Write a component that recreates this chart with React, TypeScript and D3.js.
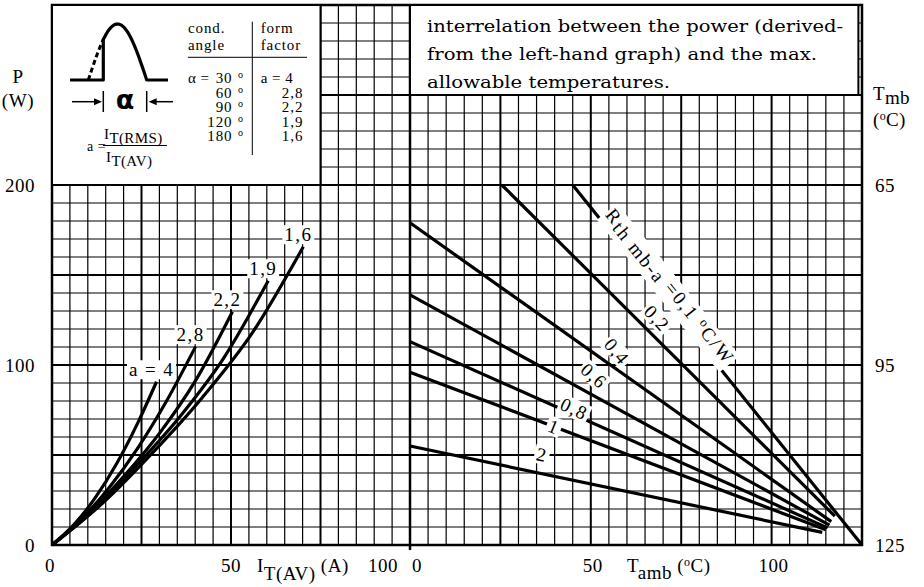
import React, { useEffect, useRef } from "react";
import * as d3 from "d3";

// left-hand graph: P (W) against I_T(AV) (A), one curve per form factor
const formFactorLabels = ["a = 4", "2,8", "2,2", "1,9", "1,6"];
const curveA4 = [[0, 0], [6, 11], [12, 26], [18, 45], [24, 68], [29.2, 90.7]];
const curveA28 = [[0, 0], [8, 14], [16, 32], [24, 54], [32, 80], [40.1, 110.2]];
const curveA22 = [[0, 0], [10, 17], [20, 38], [30, 62], [40, 91], [50.4, 129.6]];
const curveA19 = [[0, 0], [12, 20], [24, 45], [36, 72], [48, 104], [60.4, 146.8]];
const curveA16 = [[0, 0], [14, 23], [28, 51], [42, 82], [56, 118], [70.2, 165.7]];
const powerCurves = [curveA4, curveA28, curveA22, curveA19, curveA16];

// right-hand graph: straight lines for each Rth mb-a, P (W) against Tamb (oC)
const rthLabels = ["0,1", "0,2", "0,4", "0,6", "0,8", "1", "2"];
const rthStartTamb = [45, 25.4, 0, 0, 0, 0, 0];
const rthStartP = [200, 200, 179, 139, 113, 96, 55];
const rthEndTamb = [125, 117.5, 116.5, 116, 115.5, 115, 114];
const rthEndP = [0, 16, 13, 11, 9.5, 8.5, 7];

// axes
const powerTicks = [0, 100, 200];
const currentTicks = [0, 50, 100];
const tambTicks = [0, 50, 100];
const tmbTicks = [65, 95, 125];

// inset table
const condAngles = ["30", "60", "90", "120", "180"];
const formFactors = ["a = 4", "2,8", "2,2", "1,9", "1,6"];

const noteLines = [
  "interrelation between the power (derived-",
  "from the left-hand graph) and the max.",
  "allowable temperatures.",
];

const FONT = "'Liberation Serif', 'Times New Roman', serif";
const NOTE_FONT = "'DejaVu Serif', 'Liberation Serif', serif";

type Part = { s: string; dy?: number; size?: number };

const App = () => {
  const ref = useRef<SVGSVGElement>(null);

  useEffect(() => {
    const svg = d3.select(ref.current);
    svg.selectAll("*").remove();

    const xI = d3.scaleLinear().domain([0, 100]).range([52, 410]);
    const xT = d3.scaleLinear().domain([0, 125]).range([410, 862]);
    const yP = d3.scaleLinear().domain([0, 300]).range([545, 5]);
    const yTmb = d3.scaleLinear().domain([125, 35]).range([545, 5]);

    const addText = (
      parent: any,
      x: number,
      y: number,
      parts: Part[] | string,
      size = 19,
      anchor = "start",
      spacing = 0.6
    ) => {
      const t = parent
        .append("text")
        .attr("x", x)
        .attr("y", y)
        .attr("font-family", FONT)
        .attr("font-size", size)
        .attr("letter-spacing", spacing)
        .attr("text-anchor", anchor)
        .attr("fill", "#000");
      const list = typeof parts === "string" ? [{ s: parts }] : parts;
      list.forEach((p) => {
        const ts = t.append("tspan").text(p.s);
        if (p.dy) ts.attr("dy", p.dy);
        if (p.size) ts.attr("font-size", p.size);
      });
      return t;
    };

    const whiteBehind = (g: any, t: any, pad = 2, bottom?: number) => {
      const b = t.node().getBBox();
      const y0 = b.y + 1;
      const y1 = bottom !== undefined ? bottom : b.y + b.height - 1;
      g.insert("rect", "text")
        .attr("x", b.x - pad)
        .attr("y", y0)
        .attr("width", b.width + pad * 2)
        .attr("height", y1 - y0)
        .attr("fill", "#fff");
    };

    // grid
    const grid = svg.append("g").attr("stroke", "#000");
    d3.range(0, 301, 10).forEach((p) => {
      grid
        .append("line")
        .attr("x1", xI(0))
        .attr("x2", xT(125))
        .attr("y1", yP(p))
        .attr("y2", yP(p))
        .attr("stroke-width", p % 50 === 0 ? 2 : 1.2);
    });
    d3.range(0, 101, 5).forEach((i) => {
      grid
        .append("line")
        .attr("x1", xI(i))
        .attr("x2", xI(i))
        .attr("y1", yP(0))
        .attr("y2", yP(300))
        .attr("stroke-width", i % 25 === 0 ? 2 : 1.2);
    });
    d3.range(0, 126, 5).forEach((t) => {
      grid
        .append("line")
        .attr("x1", xT(t))
        .attr("x2", xT(t))
        .attr("y1", yP(0))
        .attr("y2", yP(300))
        .attr("stroke-width", t % 25 === 0 ? 2 : 1.2);
    });
    svg
      .append("rect")
      .attr("x", xI(0))
      .attr("y", yP(300))
      .attr("width", xT(125) - xI(0))
      .attr("height", yP(0) - yP(300))
      .attr("fill", "none")
      .attr("stroke", "#000")
      .attr("stroke-width", 2.5);
    svg
      .append("line")
      .attr("x1", xT(0))
      .attr("x2", xT(0))
      .attr("y1", yP(0) + 5)
      .attr("y2", yP(300))
      .attr("stroke", "#000")
      .attr("stroke-width", 2.5);

    // left curves
    const line = d3
      .line<number[]>()
      .x((d) => xI(d[0]))
      .y((d) => yP(d[1]))
      .curve(d3.curveMonotoneX);
    powerCurves.forEach((c) => {
      svg
        .append("path")
        .attr("d", line(c as any))
        .attr("fill", "none")
        .attr("stroke", "#000")
        .attr("stroke-width", 3.2);
    });
    powerCurves.forEach((c, i) => {
      const last = c[c.length - 1];
      const g = svg
        .append("g")
        .attr("transform", `translate(${xI(last[0]) - 5},${yP(last[1]) - 12})`);
      const t = addText(g, 0, 6.5, formFactorLabels[i], 19, "middle", 1.4);
      whiteBehind(g, t);
    });

    // right lines
    const rLine = d3
      .line<number[]>()
      .x((d) => xT(d[0]))
      .y((d) => yP(d[1]));
    rthLabels.forEach((_, i) => {
      svg
        .append("path")
        .attr(
          "d",
          rLine([
            [rthStartTamb[i], rthStartP[i]],
            [rthEndTamb[i], rthEndP[i]],
          ])
        )
        .attr("fill", "none")
        .attr("stroke", "#000")
        .attr("stroke-width", 3.2);
    });
    const pAt = (i: number, t: number) => {
      const f = (t - rthStartTamb[i]) / (rthEndTamb[i] - rthStartTamb[i]);
      return rthStartP[i] + f * (rthEndP[i] - rthStartP[i]);
    };
    // label along the 0,1 line, sitting just above it (line broken under the label)
    {
      const t0 = 52.5;
      const x = xT(t0);
      const y = yP(pAt(0, t0));
      const g = svg.append("g").attr("transform", `translate(${x},${y}) rotate(51.2)`);
      const t = addText(
        g,
        0,
        -6,
        [
          { s: "R" },
          { s: "th mb-a", dy: 3 },
          { s: " =0,1  ", dy: -3 },
          { s: "o", dy: -6, size: 13 },
          { s: "C/W", dy: 6 },
        ],
        19,
        "start",
        2
      );
      whiteBehind(g, t, 1, 3);
    }
    const labelTamb = [0, 68.3, 57.2, 50.9, 45.4, 39.8, 36.5];
    const labelDy = [0, -21, -18, -20, -6, 0, -19];
    const labelAngle = [0, 47, 50, 42, 25, 22, 12];
    rthLabels.forEach((lab, i) => {
      if (i === 0) return;
      const x = xT(labelTamb[i]);
      const y = yP(pAt(i, labelTamb[i])) + labelDy[i];
      const g = svg.append("g").attr("transform", `translate(${x},${y}) rotate(${labelAngle[i]})`);
      const t = addText(g, 0, 6.5, lab, 19, "middle", 1.4);
      whiteBehind(g, t);
    });

    // inset box (left)
    const inset = svg.append("g").attr("transform", `translate(${xI(0)},${yP(300)})`);
    inset
      .append("rect")
      .attr("width", xI(75) - xI(0))
      .attr("height", yP(200) - yP(300))
      .attr("fill", "#fff")
      .attr("stroke", "#000")
      .attr("stroke-width", 2);
    const sx0 = 36.3;
    const sw = 58.4;
    const sineY = (x: number) => 75 - 56 * Math.sin((Math.PI * (x - sx0)) / sw);
    const cut = 51.3;
    const solid = d3.range(cut, sx0 + sw + 0.01, 1).map((x) => [x, sineY(x)]);
    const dashed = d3.range(sx0, cut + 0.01, 1).map((x) => [x, sineY(x)]);
    const pl = d3.line<number[]>().x((d) => d[0]).y((d) => d[1]);
    inset
      .append("path")
      .attr(
        "d",
        pl([[18, 75], [cut, 75], [cut, sineY(cut)], ...solid.slice(1), [sx0 + sw, 75], [116, 75]])
      )
      .attr("fill", "none")
      .attr("stroke", "#000")
      .attr("stroke-width", 3.2)
      .attr("stroke-linejoin", "round");
    inset
      .append("path")
      .attr("d", pl(dashed))
      .attr("fill", "none")
      .attr("stroke", "#000")
      .attr("stroke-width", 3)
      .attr("stroke-dasharray", "5,3");
    // arrows
    const ay = 96.7;
    inset.append("line").attr("x1", 20).attr("x2", 44).attr("y1", ay).attr("y2", ay).attr("stroke", "#000").attr("stroke-width", 1.5);
    inset.append("path").attr("d", `M${50},${ay} L${42},${ay - 3.5} L${42},${ay + 3.5} Z`).attr("fill", "#000");
    inset.append("line").attr("x1", cut).attr("x2", cut).attr("y1", 86).attr("y2", 107).attr("stroke", "#000").attr("stroke-width", 1.5);
    const rb = sx0 + sw;
    inset.append("line").attr("x1", rb).attr("x2", rb).attr("y1", 86).attr("y2", 107).attr("stroke", "#000").attr("stroke-width", 1.5);
    inset.append("line").attr("x1", rb + 8).attr("x2", 121).attr("y1", ay).attr("y2", ay).attr("stroke", "#000").attr("stroke-width", 1.5);
    inset.append("path").attr("d", `M${rb + 2},${ay} L${rb + 10},${ay - 3.5} L${rb + 10},${ay + 3.5} Z`).attr("fill", "#000");
    inset
      .append("text")
      .attr("x", 73)
      .attr("y", 104)
      .attr("text-anchor", "middle")
      .attr("font-family", "'DejaVu Sans', sans-serif")
      .attr("font-weight", "bold")
      .attr("font-size", 27)
      .text("α");
    // formula
    addText(inset, 35, 146, "a =", 14, "start", 0.5);
    inset.append("line").attr("x1", 51).attr("x2", 115).attr("y1", 140.5).attr("y2", 140.5).attr("stroke", "#000").attr("stroke-width", 1);
    addText(inset, 52, 134, [{ s: "I" }, { s: "T(RMS)", dy: 3.5 }], 15, "start", 0.4);
    addText(inset, 54, 157, [{ s: "I" }, { s: "T(AV)", dy: 4 }], 15, "start", 0.4);
    // table
    addText(inset, 136, 28, "cond.", 15, "start", 0.9);
    addText(inset, 136, 45, "angle", 15, "start", 0.9);
    addText(inset, 208.7, 28, "form", 15, "start", 0.9);
    addText(inset, 208.7, 45, "factor", 15, "start", 0.9);
    inset.append("line").attr("x1", 136).attr("x2", 255).attr("y1", 52.3).attr("y2", 52.3).attr("stroke", "#000").attr("stroke-width", 1);
    inset.append("line").attr("x1", 200.3).attr("x2", 200.3).attr("y1", 16.7).attr("y2", 150).attr("stroke", "#000").attr("stroke-width", 1);
    const rowY = d3.scaleLinear().domain([0, 4]).range([78, 136]);
    condAngles.forEach((a, i) => {
      if (i === 0) addText(inset, 136, rowY(i), "α =", 15, "start", 0.5);
      addText(inset, 180.5, rowY(i), a, 15, "end", 0.9);
      addText(inset, 186, rowY(i) - 5, "o", 10, "start", 0);
    });
    formFactors.forEach((f, i) => {
      if (i === 0) addText(inset, 208.7, rowY(i), f, 15, "start", 0.5);
      else addText(inset, 251.3, rowY(i), f, 15, "end", 0.9);
    });

    // note box (right)
    svg
      .append("rect")
      .attr("x", xT(0))
      .attr("y", yP(300))
      .attr("width", xT(124) - xT(0))
      .attr("height", yP(250) - yP(300))
      .attr("fill", "#fff")
      .attr("stroke", "#000")
      .attr("stroke-width", 2);
    const noteWidths = [416, 390, 243];
    noteLines.forEach((s, i) => {
      addText(svg, 427, 31.5 + i * 28, s, 17.5, "start", 0)
        .attr("font-family", NOTE_FONT)
        .attr("textLength", noteWidths[i])
        .attr("lengthAdjust", "spacingAndGlyphs");
    });

    // axis labels
    powerTicks.forEach((p) => addText(svg, 35, yP(p) + 6.5, String(p), 19, "end", 0.5));
    tmbTicks.forEach((t) => addText(svg, 875, yTmb(t) + 6.5, String(t), 19, "start", 0.5));
    addText(svg, 18, 83, "P", 19, "middle");
    addText(svg, 18, 107, "(W)", 19, "middle");
    addText(svg, 873, 100, [{ s: "T" }, { s: "mb", dy: 4 }], 19, "start", 0.3);
    addText(svg, 873, 126, [{ s: "(" }, { s: "o", dy: -6, size: 12 }, { s: "C)", dy: 6 }], 19, "start", 0.3);

    const by = 572;
    currentTicks.forEach((c) => {
      const x = c === 100 ? xI(c) - 27 : xI(c) - (c === 0 ? 2 : 0);
      addText(svg, x, by, String(c), 19, "middle", 0.5);
    });
    tambTicks.forEach((t) => {
      const x = t === 0 ? xT(t) + 7 : xT(t) + 2;
      addText(svg, x, by, String(t), 19, "middle", 0.5);
    });
    addText(svg, 257, by, [{ s: "I" }, { s: "T(AV)", dy: 8 }, { s: " (A)", dy: -8 }], 19, "start", 0.5);
    addText(
      svg,
      627,
      by,
      [{ s: "T" }, { s: "amb", dy: 7 }, { s: " (", dy: -7 }, { s: "o", dy: -6, size: 12 }, { s: "C)", dy: 6 }],
      19,
      "start",
      0.5
    );
  }, []);

  return (
    <svg
      ref={ref}
      width={924}
      height={587}
      style={{ position: "absolute", left: 0, top: 0, background: "#fff" }}
    ></svg>
  );
};

export default App;
